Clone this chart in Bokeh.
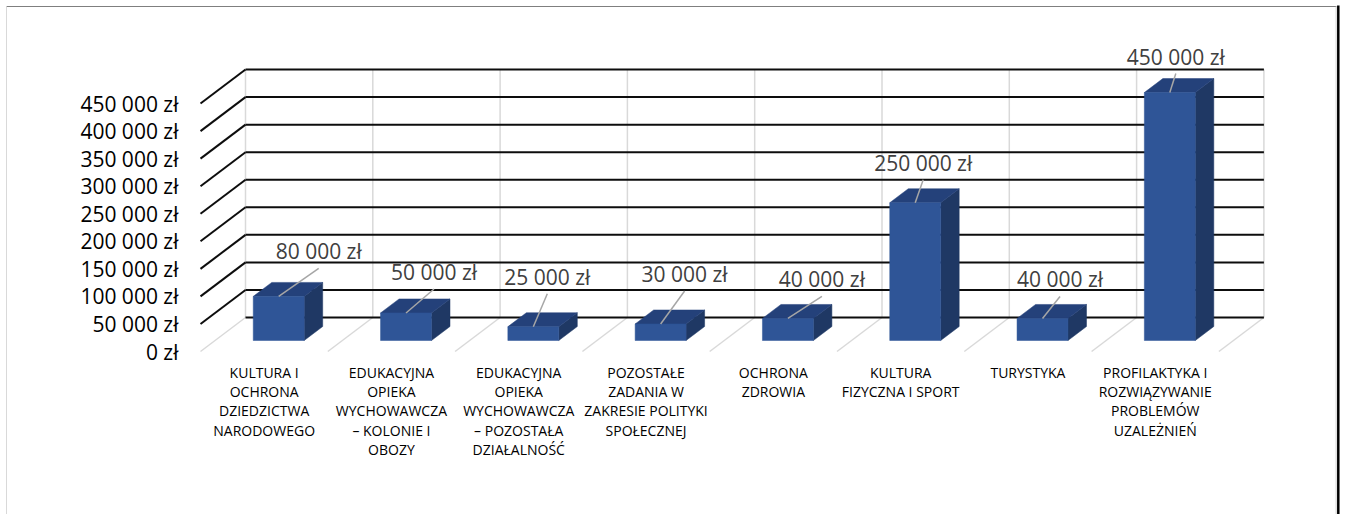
from bokeh.plotting import figure
from bokeh.models import Range1d, LinearAxis, FixedTicker
from bokeh.core.properties import value
from bokeh.embed import file_html
from bokeh.resources import INLINE

# ---------------- data ----------------
categories = [
    "KULTURA I\nOCHRONA\nDZIEDZICTWA\nNARODOWEGO",
    "EDUKACYJNA\nOPIEKA\nWYCHOWAWCZA\n– KOLONIE I\nOBOZY",
    "EDUKACYJNA\nOPIEKA\nWYCHOWAWCZA\n– POZOSTAŁA\nDZIAŁALNOŚĆ",
    "POZOSTAŁE\nZADANIA W\nZAKRESIE POLITYKI\nSPOŁECZNEJ",
    "OCHRONA\nZDROWIA",
    "KULTURA\nFIZYCZNA I SPORT",
    "TURYSTYKA",
    "PROFILAKTYKA I\nROZWIĄZYWANIE\nPROBLEMÓW\nUZALEŻNIEŃ",
]
amounts = [80000, 50000, 25000, 30000, 40000, 250000, 40000, 450000]
tick_values = [0, 50000, 100000, 150000, 200000, 250000, 300000, 350000, 400000, 450000]


def zl(v):
    return f"{v:,}".replace(",", " ") + " zł"


tick_labels = [zl(v) for v in tick_values]
value_labels = [zl(v) for v in amounts]

# ---------------- style / geometry ----------------
W, H = 1340, 514
PX_CAT = 127.3            # px per category on the back wall
PX_VAL = 27.55 / 50000    # px per zł
BACK_X0 = 245             # frame px of back-wall left edge
BACK_Y0 = 317             # frame px (from top) of back-wall zero line
DEPTH_X, DEPTH_Y = 45, 34
BAR_HALF = 0.2
D_FRONT, D_BACK = 23 / 34, 9 / 34
label_dx = [40, 28, 14, 24, 34, 8, 17.5, 6]     # px, label offset from bar top
label_dy = [45, 41, 50, 50, 39, 40, 39, 36]     # px upwards
LEADER_GAP = 17
CAT_GAP = 11

FRONT_C = "#2F5597"
SIDE_C = "#1F3864"
TOP_C = "#24417A"
GRID_GRAY = "#d9d9d9"

x0 = -BACK_X0 / PX_CAT
x1 = (W - BACK_X0) / PX_CAT
y1 = BACK_Y0 / PX_VAL
y0 = -(H - BACK_Y0) / PX_VAL
DX = DEPTH_X / PX_CAT
DY = DEPTH_Y / PX_VAL


def proj(x, v, d):
    return x - DX * d, v - DY * d


def fpx(fx, fy):
    return x0 + fx / PX_CAT, y1 - fy / PX_VAL


p = figure(width=W, height=H, x_range=Range1d(x0, x1), y_range=Range1d(y0, y1),
           output_backend="svg", toolbar_location=None,
           x_axis_location=None, y_axis_location=None, min_border=0)
p.min_border_left = p.min_border_right = p.min_border_top = p.min_border_bottom = 0
p.grid.visible = False
p.outline_line_color = None
p.background_fill_color = "white"
p.border_fill_color = "white"

n = len(categories)
vmax = max(tick_values)

# back wall verticals + floor lines (gray)
vx0, vy0, vx1, vy1 = [], [], [], []
for b in range(n + 1):
    a = proj(b, 0, 0); c = proj(b, vmax, 0)
    vx0.append(a[0]); vy0.append(a[1]); vx1.append(c[0]); vy1.append(c[1])
    a = proj(b, 0, 0); c = proj(b, 0, 1)
    vx0.append(a[0]); vy0.append(a[1]); vx1.append(c[0]); vy1.append(c[1])
p.segment(vx0, vy0, vx1, vy1, line_color=GRID_GRAY, line_width=1.5)

# back wall horizontals + side-wall diagonals (black)
hx0, hy0, hx1, hy1 = [], [], [], []
for v in tick_values:
    a = proj(0, v, 0); c = proj(n, v, 0)
    hx0.append(a[0]); hy0.append(a[1]); hx1.append(c[0]); hy1.append(c[1])
    if v > 0:
        a = proj(0, v, 0); c = proj(0, v, 1)
        hx0.append(a[0]); hy0.append(a[1]); hx1.append(c[0]); hy1.append(c[1])
p.segment(hx0, hy0, hx1, hy1, line_color="#0d0d0d", line_width=2)

# 3D bars
fxs, fys, sxs, sys_, txs, tys = [], [], [], [], [], []
for i, v in enumerate(amounts):
    xc = i + 0.5
    l, r = xc - BAR_HALF, xc + BAR_HALF
    pts = [proj(l, 0, D_FRONT), proj(r, 0, D_FRONT), proj(r, v, D_FRONT), proj(l, v, D_FRONT)]
    fxs.append([q[0] for q in pts]); fys.append([q[1] for q in pts])
    pts = [proj(r, 0, D_FRONT), proj(r, 0, D_BACK), proj(r, v, D_BACK), proj(r, v, D_FRONT)]
    sxs.append([q[0] for q in pts]); sys_.append([q[1] for q in pts])
    pts = [proj(l, v, D_FRONT), proj(r, v, D_FRONT), proj(r, v, D_BACK), proj(l, v, D_BACK)]
    txs.append([q[0] for q in pts]); tys.append([q[1] for q in pts])
p.patches(sxs, sys_, fill_color=SIDE_C, line_color=SIDE_C, line_width=0.5)
p.patches(txs, tys, fill_color=TOP_C, line_color=TOP_C, line_width=0.5)
p.patches(fxs, fys, fill_color=FRONT_C, line_color=FRONT_C, line_width=0.5)

# data labels with leader lines
bx, by, lx, ly, ex, ey = [], [], [], [], [], []
for i, v in enumerate(amounts):
    x, y = proj(i + 0.5, v, D_FRONT)
    bx.append(x); by.append(y)
    tx = x + label_dx[i] / PX_CAT
    ty = y + label_dy[i] / PX_VAL
    lx.append(tx); ly.append(ty)
    ex.append(tx); ey.append(ty - LEADER_GAP / PX_VAL)
p.segment(bx, by, ex, ey, line_color="#a6a6a6", line_width=1.5)
p.text(x=lx, y=ly, text=value_labels, text_align="center", text_baseline="middle",
       text_font=value("Open Sans"), text_font_size="21px", text_color="#404040")

# category labels (front plane)
cx = [proj(i + 0.5, 0, 1)[0] for i in range(n)]
cy = [proj(i + 0.5, 0, 1)[1] - CAT_GAP / PX_VAL for i in range(n)]
p.text(x=cx, y=cy, text=categories, text_align="center", text_baseline="top",
       text_font=value("Open Sans"), text_font_size="14px", text_color="black",
       text_line_height=1.02)

# value axis on the front-left edge
p.extra_y_ranges = {"front": Range1d(y0 + DY, y1 + DY)}
yaxis = LinearAxis(y_range_name="front", ticker=FixedTicker(ticks=tick_values),
                   fixed_location=proj(0, 0, 1)[0],
                   major_label_overrides={v: s for v, s in zip(tick_values, tick_labels)},
                   axis_line_color=None, major_tick_line_color=None,
                   minor_tick_line_color=None, major_tick_out=0, major_tick_in=0,
                   major_label_standoff=22, major_label_text_font="Open Sans",
                   major_label_text_font_size="21px", major_label_text_color="black")
p.add_layout(yaxis, "left")

# outer frame lines of the chart area
ax, ay = fpx(6, 6); bx2, by2 = fpx(1336, 6)
p.segment([ax], [ay], [bx2], [by2], line_color="#7f7f7f", line_width=1)
ax, ay = fpx(6, 6); bx2, by2 = fpx(6, H)
p.segment([ax], [ay], [bx2], [by2], line_color=GRID_GRAY, line_width=1)
ax, ay = fpx(1335.6, 6); bx2, by2 = fpx(1335.6, H)
p.segment([ax], [ay], [bx2], [by2], line_color="#cfcfcf", line_width=1)
ax, ay = fpx(1337.8, 5); bx2, by2 = fpx(1337.8, H)
p.segment([ax], [ay], [bx2], [by2], line_color="black", line_width=2.5)

open("out.html", "w").write(file_html(p, INLINE))
